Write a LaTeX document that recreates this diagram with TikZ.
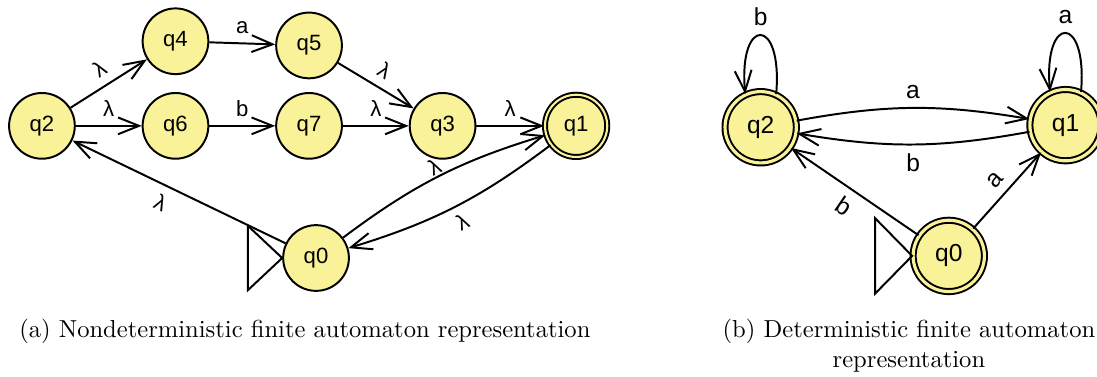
\documentclass[tikz,border=0pt]{standalone}
\usepackage{fontspec}
\setsansfont{Liberation Sans}
\usetikzlibrary{arrows.meta,positioning}
\definecolor{stateyellow}{RGB}{249,242,152}
\tikzset{>={Straight Barb[length=3mm,width=2.4mm]}}
\tikzset{state/.style={shape=circle, draw, fill=stateyellow,
    inner sep=0pt, minimum size=9.4mm, font=\sffamily\fontsize{9}{10.5}\selectfont}}
\tikzset{accept/.style={double=stateyellow, double distance=0.3mm, minimum size=8.9mm}}
\tikzset{dfa/.style={double=stateyellow, double distance=0.45mm, minimum size=10.2mm,
    font=\sffamily\fontsize{10}{12}\selectfont}}
\tikzset{caption/.style={anchor=north, inner sep=0pt, align=center,
    font=\rmfamily\fontsize{10}{12}\selectfont}}

\begin{document}
\begin{tikzpicture}[node distance=1.91cm, line width=0.8pt,
    font=\sffamily\fontsize{9}{10.5}\selectfont]
    \useasboundingbox (0,0) rectangle (15.69,-5.39);

    % nondeterministic automaton
    \node(q2)[state] at (0.60,-1.80)                   {q2};
    \node(q6)[state] [right of=q2]                     {q6};
    \node(q7)[state] [right of=q6]                     {q7};
    \node(q3)[state] [right of=q7]                     {q3};
    \node(q1)[state, accept] [right of=q3]             {q1};
    \node(q4)[state] [above of=q6, node distance=1.21cm] {q4};
    \node(q5)[state] [above of=q7, node distance=1.15cm] {q5};
    \node(q0)[state] at (4.52,-3.69)                   {q0};

    \draw (q0.west) -- ++(-0.49,0.46) -- ++(0,-0.92) -- cycle;

    \draw [->][draw=black] (q2) to node [above, sloped] {λ} (q4);
    \draw [->][draw=black] (q2) to node [above] {λ} (q6);
    \draw [->][draw=black] (q4) to node [above] {a} (q5);
    \draw [->][draw=black] (q6) to node [above] {b} (q7);
    \draw [->][draw=black] (q5) to node [above, sloped] {λ} (q3);
    \draw [->][draw=black] (q7) to node [above] {λ} (q3);
    \draw [->][draw=black] (q3) to node [above] {λ} (q1);
    \draw [->][draw=black] (q0) to [bend left=10] node [above, sloped, inner sep=0.5pt] {λ} (q1);
    \draw [->][draw=black] (q1) to [bend left=10] node [below, sloped] {λ} (q0);
    \draw [->][draw=black] (q0) to node [below, sloped, pos=0.55] {λ} (q2);

    % deterministic automaton
    \begin{scope}[font=\sffamily\fontsize{10}{12}\selectfont]
    \node(d2)[state, dfa] at (10.88,-1.82) {q2};
    \node(d1)[state, dfa] at (15.24,-1.79) {q1};
    \node(d0)[state, dfa] at (13.57,-3.66) {q0};

    \draw (d0.west) -- ++(-0.53,0.54) -- ++(0,-1.08) -- cycle;

    \draw [->][draw=black] (d2.65) to [out=85, in=95, looseness=6.5] node [above] {b} (d2.115);
    \draw [->][draw=black] (d1.65) to [out=85, in=95, looseness=6.5] node [above] {a} (d1.115);
    \draw [->][draw=black] (d2) to [bend left=10] node [above] {a} (d1);
    \draw [->][draw=black] (d1) to [bend left=10] node [below] {b} (d2);
    \draw [->][draw=black] (d0) to node [above, sloped] {a} (d1);
    \draw [->][draw=black] (d0) to node [below, sloped] {b} (d2);
    \end{scope}

    \node(capa)[caption] at (4.36,-4.55) {(a) Nondeterministic finite automaton representation};
    \node(capb)[caption] at (13.0,-4.55) {(b) Deterministic finite automaton\\representation};
\end{tikzpicture}
\end{document}
